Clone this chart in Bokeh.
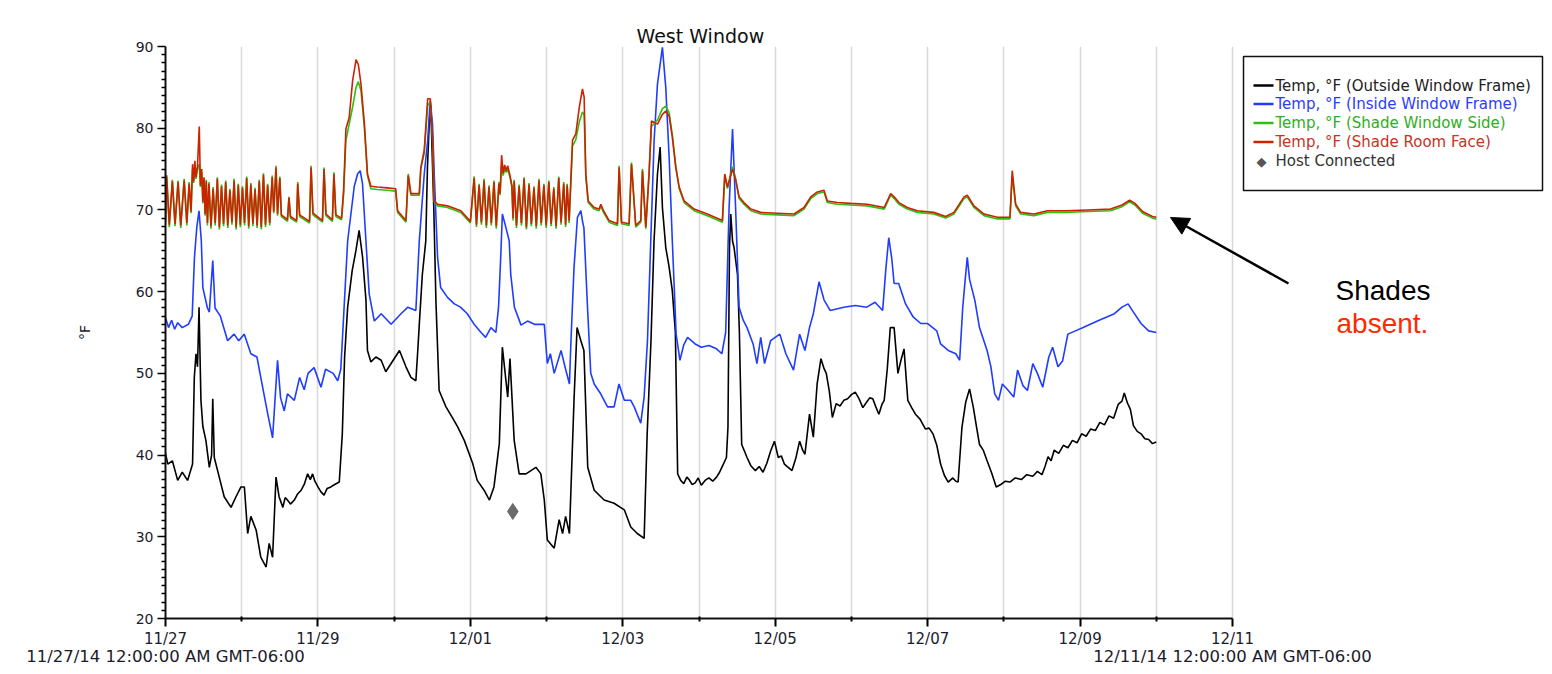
from bokeh.plotting import figure
from bokeh.models import FixedTicker, Label, Arrow, NormalHead, BoxAnnotation, Range1d, LinearAxis
from bokeh.embed import file_html
from bokeh.resources import INLINE

# ---------------- data (days since 11/27/14 00:00, °F) ----------------
TICK_DAYS = [0, 2, 4, 6, 8, 10, 12, 14]
TICK_LABELS = ["11/27", "11/29", "12/01", "12/03", "12/05", "12/07", "12/09", "12/11"]
GRID_DAYS = list(range(15))
Y_TICKS = [20, 30, 40, 50, 60, 70, 80, 90]
RANGE_LABELS = {0: "11/27/14 12:00:00 AM GMT-06:00", 14: "12/11/14 12:00:00 AM GMT-06:00"}

SERIES_NAMES = ["Temp, °F (Outside Window Frame)", "Temp, °F (Inside Window Frame)",
                "Temp, °F (Shade Window Side)", "Temp, °F (Shade Room Face)", "Host Connected"]

# Outside window frame (black)
outside_t1 = [0.0, 0.03, 0.09, 0.16, 0.22, 0.29, 0.355, 0.378, 0.40, 0.42,
              0.44, 0.465, 0.49, 0.53, 0.575, 0.605, 0.62, 0.64, 0.705, 0.77,
              0.86, 0.925, 0.99, 1.035, 1.078, 1.12, 1.19, 1.25, 1.32, 1.36,
              1.405, 1.45, 1.49, 1.54, 1.57, 1.60, 1.64, 1.69, 1.73, 1.78,
              1.82, 1.865, 1.90, 1.93, 1.96, 2.0, 2.04, 2.08, 2.12, 2.17,
              2.22, 2.28, 2.32, 2.35, 2.39, 2.45, 2.50, 2.54, 2.585, 2.63]
outside_v1 = [40.2, 38.9, 39.3, 36.9, 37.9, 36.9, 38.9, 49.5, 52.4, 50.8,
              58.1, 46.7, 43.5, 41.8, 38.5, 40.0, 46.9, 39.7, 37.3, 34.9,
              33.6, 34.9, 36.1, 36.1, 30.4, 32.5, 30.8, 27.5, 26.3, 29.2,
              27.5, 37.3, 34.9, 33.6, 34.8, 34.5, 34.0, 34.5, 35.2, 35.7,
              36.4, 37.7, 37.0, 37.7, 36.8, 36.1, 35.5, 35.1, 35.9, 36.1,
              36.4, 36.7, 42.6, 52.0, 58.1, 62.6, 65.1, 67.5, 64.3, 59.0]
outside_t2 = [2.65, 2.695, 2.76, 2.83, 2.89, 2.96, 3.07, 3.155, 3.22, 3.285,
              3.31, 3.33, 3.37, 3.415, 3.437, 3.46, 3.48, 3.52, 3.548, 3.59,
              3.68, 3.77, 3.83, 3.92, 4.03, 4.09, 4.18, 4.25, 4.31, 4.38,
              4.42, 4.49, 4.52, 4.575, 4.64, 4.73, 4.86, 4.925, 4.97, 5.01,
              5.10, 5.165, 5.21, 5.25, 5.30, 5.36, 5.40, 5.45, 5.49, 5.54,
              5.625, 5.755, 5.886, 6.02, 6.105, 6.19, 6.28, 6.32, 6.37, 6.41,
              6.455, 6.49, 6.52, 6.564, 6.608, 6.65, 6.69]
outside_v2 = [52.8, 51.4, 52.0, 51.6, 50.2, 51.2, 52.8, 50.8, 49.5, 49.1,
              52.8, 56.0, 62.1, 66.2, 75.2, 80.5, 82.8, 70.3, 58.9, 47.9,
              45.9, 44.5, 43.5, 41.8, 39.0, 36.9, 35.7, 34.5, 36.1, 41.4,
              53.2, 47.1, 51.8, 41.8, 37.7, 37.7, 38.5, 37.7, 34.5, 29.6,
              28.6, 32.1, 30.4, 32.5, 30.4, 46.7, 55.6, 54.0, 52.8, 38.5,
              35.7, 34.5, 34.1, 33.3, 31.2, 30.4, 29.8, 42.6, 54.0, 66.2,
              74.4, 77.7, 70.3, 65.4, 63.0, 60.1, 55.0]
outside_t3 = [6.72, 6.76, 6.80, 6.84, 6.87, 6.91, 6.95, 6.99, 7.03, 7.08,
              7.13, 7.18, 7.23, 7.27, 7.30, 7.36, 7.38, 7.40, 7.417, 7.44,
              7.46, 7.505, 7.53, 7.56, 7.60, 7.63, 7.68, 7.74, 7.79, 7.84,
              7.89, 7.94, 7.99, 8.04, 8.08, 8.12, 8.17, 8.22, 8.27, 8.32,
              8.36, 8.39, 8.45, 8.50, 8.55, 8.60, 8.64, 8.67, 8.71, 8.75,
              8.80, 8.85, 8.90, 8.95, 9.0, 9.05, 9.10, 9.15, 9.20, 9.24,
              9.28, 9.32, 9.36, 9.40, 9.43, 9.47, 9.51, 9.56, 9.61, 9.65,
              9.69, 9.74, 9.79, 9.84, 9.90, 9.97, 10.02, 10.07, 10.12, 10.17,
              10.22, 10.27, 10.33, 10.37, 10.40, 10.45, 10.50, 10.55, 10.60, 10.64,
              10.68, 10.73, 10.78, 10.84, 10.90]
outside_v3 = [37.7, 36.9, 36.5, 37.3, 37.0, 36.4, 36.6, 37.2, 36.3, 36.9,
              37.2, 36.8, 37.3, 37.9, 38.5, 39.7, 43.4, 65.4, 69.5, 66.2,
              65.4, 62.1, 55.0, 41.3, 40.4, 39.7, 38.7, 38.1, 38.6, 37.9,
              39.0, 40.5, 41.7, 39.7, 39.9, 38.9, 38.5, 38.1, 39.6, 41.7,
              40.6, 40.1, 45.0, 42.2, 48.7, 51.8, 50.6, 50.0, 47.8, 44.6,
              46.3, 46.0, 46.7, 46.9, 47.4, 47.7, 46.9, 45.8, 46.5, 47.0,
              46.9, 45.9, 45.0, 46.2, 46.7, 50.5, 55.6, 55.6, 50.0, 51.6,
              53.0, 46.7, 45.8, 45.0, 44.4, 43.2, 43.3, 42.6, 41.2, 38.9,
              37.5, 36.7, 37.2, 36.8, 36.7, 43.4, 46.5, 48.1, 45.8, 43.5,
              41.3, 40.6, 39.3, 37.8, 36.1]
outside_t4 = [10.96, 11.02, 11.08, 11.15, 11.23, 11.30, 11.38, 11.44, 11.50, 11.54,
              11.58, 11.62, 11.66, 11.72, 11.78, 11.84, 11.90, 11.96, 12.02, 12.08,
              12.14, 12.20, 12.26, 12.32, 12.38, 12.44, 12.50, 12.55, 12.58, 12.62,
              12.66, 12.70, 12.75, 12.80, 12.85, 12.90, 12.95, 13.0]
outside_v4 = [36.4, 36.8, 36.7, 37.2, 37.0, 37.6, 37.4, 38.0, 37.6, 38.6,
              39.8, 39.3, 40.6, 40.2, 41.2, 40.9, 41.8, 41.5, 42.6, 42.3,
              43.2, 43.0, 44.0, 43.7, 44.8, 44.5, 46.2, 46.6, 47.6, 46.4,
              45.6, 43.6, 42.9, 42.6, 42.0, 41.9, 41.4, 41.6]

# Inside window frame (blue)
inside_t1 = [0.0, 0.04, 0.08, 0.12, 0.16, 0.22, 0.30, 0.35, 0.38, 0.41,
             0.44, 0.47, 0.49, 0.55, 0.575, 0.62, 0.65, 0.72, 0.815, 0.90,
             0.96, 1.034, 1.12, 1.20, 1.25, 1.34, 1.405, 1.47, 1.51, 1.558,
             1.60, 1.69, 1.76, 1.82, 1.87, 1.95, 2.04, 2.10, 2.20, 2.26, 2.30]
inside_v1 = [56.8, 55.6, 56.5, 55.4, 56.2, 55.6, 56.0, 57.0, 64.2, 67.8,
             69.9, 66.2, 60.5, 58.0, 57.5, 63.8, 58.0, 57.0, 54.0, 54.8,
             54.0, 54.8, 52.4, 52.0, 49.5, 45.1, 42.1, 51.6, 47.0, 45.4,
             47.5, 46.7, 49.5, 48.0, 50.0, 50.7, 48.3, 50.5, 50.0, 49.1, 50.5]
inside_t2 = [2.32, 2.39, 2.477, 2.52, 2.555, 2.585, 2.63, 2.673, 2.74, 2.83,
             2.96, 3.09, 3.18, 3.285, 3.33, 3.395, 3.44, 3.473, 3.504, 3.526,
             3.57, 3.61, 3.70, 3.79, 3.87, 3.96, 4.05, 4.14, 4.20, 4.27,
             4.335, 4.37, 4.40, 4.42, 4.465, 4.51, 4.53, 4.578, 4.665, 4.75,
             4.84, 4.97, 5.01, 5.05, 5.10, 5.19, 5.25, 5.30, 5.32, 5.36,
             5.405, 5.45, 5.47, 5.49, 5.537, 5.58, 5.625, 5.71, 5.80, 5.886,
             5.95, 6.02, 6.105, 6.15, 6.236, 6.28, 6.324, 6.367, 6.411, 6.455,
             6.52, 6.564, 6.608, 6.65]
inside_v2 = [54.0, 66.2, 72.9, 74.4, 74.8, 73.2, 66.2, 59.7, 56.4, 57.3,
             56.0, 57.3, 58.1, 57.7, 66.2, 74.4, 78.5, 83.4, 80.5, 74.4,
             64.2, 60.5, 59.3, 58.5, 58.1, 57.3, 56.0, 55.0, 54.4, 55.6,
             55.0, 58.1, 64.6, 69.5, 67.9, 66.2, 62.1, 58.1, 55.9, 56.4,
             56.0, 56.0, 51.2, 52.4, 50.0, 52.8, 50.5, 48.7, 54.0, 62.9,
             69.1, 69.9, 68.7, 67.8, 58.1, 50.0, 48.7, 47.5, 45.9, 45.9,
             48.7, 46.7, 46.7, 45.9, 43.9, 47.1, 54.0, 66.2, 78.5, 85.4,
             89.9, 85.0, 76.5, 66.2]
inside_t3 = [6.70, 6.75, 6.80, 6.85, 6.95, 7.03, 7.13, 7.23, 7.30, 7.35,
             7.395, 7.44, 7.48, 7.526, 7.58, 7.63, 7.71, 7.76, 7.81, 7.86,
             7.94, 8.06, 8.14, 8.24, 8.32, 8.39, 8.45, 8.50, 8.575, 8.64,
             8.72, 8.90, 9.05, 9.20, 9.31, 9.41, 9.45, 9.49, 9.53, 9.56,
             9.62, 9.71, 9.81, 9.91, 10.0, 10.12, 10.17, 10.27, 10.37, 10.42,
             10.46, 10.49, 10.52, 10.55, 10.62, 10.68, 10.78, 10.83, 10.88, 10.93,
             10.98, 11.05, 11.13, 11.18, 11.25, 11.31, 11.38, 11.44, 11.51, 11.59,
             11.64, 11.71, 11.77, 11.84, 11.94, 12.04, 12.25, 12.45, 12.55, 12.63,
             12.70, 12.80, 12.90, 13.0]
inside_v3 = [54.8, 51.6, 53.5, 54.4, 53.6, 53.2, 53.4, 53.0, 52.4, 55.0,
             70.3, 79.9, 70.3, 58.1, 56.5, 55.6, 53.6, 51.2, 54.4, 51.2,
             54.0, 54.8, 52.4, 50.4, 54.8, 52.8, 55.6, 57.3, 61.2, 59.0,
             57.7, 58.1, 58.3, 58.1, 58.7, 57.7, 62.6, 66.6, 64.0, 61.0,
             61.0, 58.5, 56.9, 56.1, 56.1, 55.2, 53.6, 52.8, 52.4, 51.6,
             58.0, 61.2, 64.2, 61.5, 58.9, 55.6, 52.8, 50.8, 47.5, 46.7,
             48.7, 48.0, 47.1, 50.4, 48.5, 47.9, 51.2, 50.0, 48.3, 52.0,
             53.2, 50.8, 51.5, 54.8, 55.2, 55.6, 56.5, 57.3, 58.1, 58.5,
             57.5, 56.1, 55.2, 55.0]

# Shade sensors: shared time stamps, room face (red) and window side (green)
shade_t_a = [0.0, 0.015, 0.05, 0.09, 0.125, 0.165, 0.20, 0.245, 0.28, 0.31, 0.335]
room_a = [68.6, 74.1, 68.2, 73.5, 68.3, 73.4, 68.1, 73.6, 68.4, 73.2, 69.8]
side_a = [68.4, 74.3, 67.9, 73.7, 68.0, 73.6, 67.8, 73.8, 68.1, 73.4, 69.6]

shade_t_b = [0.355, 0.37, 0.385, 0.40, 0.42, 0.443, 0.458, 0.475, 0.49, 0.505, 0.52, 0.535, 0.55]
room_b = [75.6, 73.5, 76.0, 74.0, 75.4, 80.2, 73.0, 75.0, 71.0, 74.0, 69.5, 73.5, 68.4]
side_b = [75.0, 73.3, 75.4, 73.8, 75.0, 75.6, 72.8, 74.6, 70.8, 73.8, 69.3, 73.7, 68.1]

shade_t_c = [0.57, 0.597, 0.625, 0.652, 0.68, 0.707, 0.735, 0.762, 0.79, 0.817,
             0.845, 0.872, 0.90, 0.927, 0.955, 0.982, 1.01, 1.037, 1.065, 1.092,
             1.12, 1.147, 1.175, 1.202, 1.23, 1.257, 1.285, 1.312, 1.34, 1.367]
room_c = [73.2, 68.0, 72.6, 68.4, 73.8, 67.9, 72.9, 68.3, 73.4, 68.1,
          72.4, 68.5, 73.6, 67.9, 73.0, 68.2, 72.7, 68.4, 73.9, 68.0,
          73.1, 68.3, 72.5, 68.1, 73.5, 67.9, 74.3, 68.2, 73.0, 68.4]
side_c = [73.4, 67.7, 72.8, 68.1, 74.0, 67.6, 73.1, 68.0, 73.6, 67.8,
          72.6, 68.2, 73.8, 67.6, 73.2, 67.9, 72.9, 68.1, 74.1, 67.7,
          73.3, 68.0, 72.7, 67.8, 73.7, 67.6, 74.5, 67.9, 73.2, 68.1]

shade_t_d = [1.40, 1.42, 1.45, 1.47, 1.50, 1.52, 1.60, 1.62, 1.64, 1.72, 1.735,
             1.76, 1.89, 1.91, 1.935, 2.06, 2.08, 2.105, 2.19, 2.21, 2.235, 2.31]
room_d = [74.0, 69.8, 75.2, 69.5, 73.9, 69.4, 68.8, 71.5, 69.2, 68.7, 73.2,
          69.4, 68.6, 75.2, 69.6, 68.7, 75.0, 69.5, 68.8, 74.4, 69.4, 69.0]
side_d = [74.2, 69.6, 75.4, 69.3, 74.1, 69.2, 68.6, 71.6, 69.0, 68.5, 73.4,
          69.2, 68.4, 75.4, 69.4, 68.5, 75.2, 69.3, 68.6, 74.6, 69.2, 68.8]

shade_t_e = [2.337, 2.367, 2.41, 2.455, 2.50, 2.53, 2.565, 2.61, 2.65, 2.695,
             2.78, 2.91, 3.02, 3.045, 3.155, 3.185, 3.22, 3.33, 3.35, 3.395,
             3.44, 3.475, 3.505, 3.525, 3.57, 3.70, 3.875, 4.0]
room_e = [72.4, 79.9, 81.3, 85.8, 88.4, 87.8, 85.4, 80.5, 74.4, 72.9,
          72.8, 72.7, 72.6, 69.9, 68.7, 74.2, 72.0, 72.0, 75.2, 77.3,
          83.6, 83.6, 78.5, 71.1, 70.7, 70.5, 69.9, 68.6]
side_e = [72.0, 78.5, 80.5, 82.6, 85.0, 85.7, 84.6, 80.0, 74.2, 72.6,
          72.5, 72.4, 72.3, 69.7, 68.5, 74.4, 71.8, 71.8, 75.0, 77.0,
          82.8, 83.2, 78.2, 71.0, 70.5, 70.3, 69.7, 68.4]

shade_t_f = [4.05, 4.08, 4.115, 4.145, 4.18, 4.21, 4.245, 4.275, 4.31, 4.34,
             4.375, 4.39, 4.41, 4.43, 4.45, 4.47, 4.49, 4.52, 4.545, 4.56,
             4.575, 4.605, 4.64, 4.67, 4.705, 4.735, 4.77, 4.80, 4.835, 4.865,
             4.90, 4.93, 4.965, 4.995, 5.03, 5.06, 5.095, 5.125, 5.16, 5.19,
             5.225, 5.25, 5.27, 5.296]
room_f = [73.9, 68.2, 73.0, 68.5, 73.6, 68.1, 72.8, 68.4, 73.4, 68.0,
          73.2, 72.0, 76.7, 74.5, 75.5, 74.8, 75.4, 74.2, 73.0, 69.0,
          73.5, 68.1, 72.9, 68.4, 73.8, 67.9, 73.1, 68.3, 72.7, 68.0,
          73.6, 68.4, 73.0, 68.1, 73.4, 68.3, 72.6, 68.0, 73.9, 68.5,
          73.2, 68.2, 73.0, 68.7]
side_f = [74.1, 67.9, 73.2, 68.2, 73.8, 67.8, 73.0, 68.1, 73.6, 67.7,
          73.4, 71.8, 75.6, 74.2, 75.0, 74.6, 75.0, 74.0, 72.8, 68.7,
          73.7, 67.8, 73.1, 68.1, 74.0, 67.6, 73.3, 68.0, 72.9, 67.7,
          73.8, 68.1, 73.2, 67.8, 73.6, 68.0, 72.8, 67.7, 74.1, 68.2,
          73.4, 67.9, 73.2, 68.4]

shade_t_g = [5.34, 5.384, 5.43, 5.471, 5.493, 5.515, 5.546, 5.624, 5.69, 5.712,
             5.747, 5.821, 5.93, 5.952, 5.983, 6.083, 6.114, 6.17, 6.236, 6.258,
             6.302, 6.345, 6.376, 6.455, 6.52, 6.564, 6.608, 6.65, 6.695, 6.74,
             6.805, 6.936, 7.11, 7.307, 7.338, 7.373, 7.44, 7.482, 7.526, 7.59,
             7.68, 7.81, 8.03, 8.247, 8.378, 8.466, 8.553, 8.64, 8.684, 8.815,
             8.99, 9.21, 9.43, 9.515, 9.56, 9.624, 9.733, 9.865, 10.08, 10.236,
             10.345, 10.477, 10.52, 10.608, 10.74, 10.914, 11.08, 11.11, 11.155, 11.22,
             11.395, 11.57, 11.8, 12.1, 12.4, 12.55, 12.65, 12.72, 12.82, 12.95, 13.0]
room_g = [78.5, 79.3, 82.6, 84.8, 83.8, 74.4, 71.1, 70.3, 70.1, 70.7,
          69.9, 68.7, 68.3, 75.2, 68.5, 68.3, 75.6, 68.1, 68.7, 74.8,
          67.9, 74.4, 80.9, 80.5, 81.7, 82.1, 81.5, 78.9, 75.2, 72.8,
          71.1, 70.1, 69.5, 68.7, 74.4, 72.8, 75.0, 73.6, 71.6, 70.9,
          70.1, 69.7, 69.6, 69.5, 70.3, 71.6, 72.2, 72.4, 71.1, 70.9,
          70.8, 70.7, 70.3, 72.0, 71.6, 70.9, 70.3, 69.9, 69.7, 69.2,
          69.7, 71.6, 71.8, 70.5, 69.5, 69.1, 69.1, 74.8, 70.7, 69.7,
          69.5, 69.9, 69.9, 70.0, 70.1, 70.6, 71.2, 70.8, 69.8, 69.2, 69.1]
side_g = [77.8, 78.6, 80.8, 82.0, 81.6, 74.0, 70.9, 70.1, 69.9, 70.5,
          69.7, 68.5, 68.1, 75.4, 68.3, 68.1, 75.8, 67.9, 68.5, 75.0,
          67.7, 74.6, 80.2, 81.0, 82.4, 82.7, 81.9, 79.2, 75.4, 72.6,
          70.9, 69.9, 69.3, 68.5, 74.2, 72.6, 75.3, 73.8, 71.4, 70.7,
          69.9, 69.5, 69.4, 69.3, 70.1, 71.4, 72.0, 72.2, 70.9, 70.7,
          70.6, 70.5, 70.1, 71.8, 71.4, 70.7, 70.1, 69.7, 69.5, 69.0,
          69.5, 71.4, 71.6, 70.3, 69.3, 68.9, 68.9, 74.2, 70.5, 69.5,
          69.3, 69.7, 69.7, 69.8, 69.9, 70.4, 71.0, 70.6, 69.6, 69.0, 68.9]

host_t = [4.557]
host_v = [33.1]

# ---------------- assemble series ----------------
outside_t = outside_t1 + outside_t2 + outside_t3 + outside_t4
outside_v = outside_v1 + outside_v2 + outside_v3 + outside_v4
inside_t = inside_t1 + inside_t2 + inside_t3
inside_v = inside_v1 + inside_v2 + inside_v3
shade_t = shade_t_a + shade_t_b + shade_t_c + shade_t_d + shade_t_e + shade_t_f + shade_t_g
room_v = room_a + room_b + room_c + room_d + room_e + room_f + room_g
side_v = side_a + side_b + side_c + side_d + side_e + side_f + side_g

# ---------------- layout / styling ----------------
FONT = "DejaVu Sans"
C_BLACK = "#000000"
C_BLUE = "#1f3cff"
C_GREEN = "#2fbf12"
C_RED = "#cc2200"

W, H = 1552, 674
LEFT, TOP, BOTTOM = 165, 46, 618          # frame edges (page px)
AXIS_RIGHT = 1232                          # page px of 12/11
X0, X1, Y0, Y1 = 0, 14, 20, 90
PX_DAY = (AXIS_RIGHT - LEFT) / (X1 - X0)
PX_DEG = (BOTTOM - TOP) / (Y1 - Y0)
X_END = X0 + (W - LEFT) / PX_DAY           # frame runs to the right edge (legend/notes live there)

p = figure(width=W, height=H, output_backend="svg", toolbar_location=None,
           x_range=Range1d(X0, X_END), y_range=Range1d(Y0, Y1),
           min_border_left=LEFT, min_border_right=0,
           min_border_top=TOP, min_border_bottom=H - BOTTOM)
p.outline_line_color = None
p.background_fill_color = "white"
p.border_fill_color = "white"


def ax(px):   # page pixel -> x data (annotation placement only)
    return X0 + (px - LEFT) / PX_DAY


def ay(py):   # page pixel -> y data (annotation placement only)
    return Y1 - (py - TOP) / PX_DEG


# title
p.title.text = "West Window"
p.title.align = "left"
p.title.offset = 636 - LEFT
p.title.text_font = FONT
p.title.text_font_size = "19px"
p.title.text_font_style = "normal"
p.title.text_color = "#111111"
p.title.standoff = 0

# grid
p.ygrid.grid_line_color = None
p.xgrid.ticker = FixedTicker(ticks=GRID_DAYS)
p.xgrid.grid_line_color = "#d9d9d9"
p.xgrid.grid_line_width = 1.5

# x axis
xa = p.xaxis[0]
xa.bounds = (X0, X1)
xa.ticker = FixedTicker(ticks=TICK_DAYS, minor_ticks=[d for d in GRID_DAYS if d not in TICK_DAYS])
xa.major_label_overrides = {d: s for d, s in zip(TICK_DAYS, TICK_LABELS)}
xa.major_label_text_font = FONT
xa.major_label_text_font_size = "15px"
xa.major_label_text_color = "#1b1b2a"
xa.major_label_standoff = 3
xa.axis_line_width = 2
xa.axis_line_color = "#111111"
xa.major_tick_line_width = 2
xa.major_tick_out = 8
xa.major_tick_in = 0
xa.minor_tick_out = 3
xa.minor_tick_in = 2
xa.minor_tick_line_width = 2

# range-label axis (start / end timestamps)
xr = LinearAxis(ticker=FixedTicker(ticks=list(RANGE_LABELS.keys()), minor_ticks=[]),
                major_label_overrides=RANGE_LABELS, bounds=(X0, X1))
xr.axis_line_color = None
xr.major_tick_line_color = None
xr.minor_tick_line_color = None
xr.major_tick_out = 0
xr.major_tick_in = 0
xr.major_label_standoff = -4
xr.major_label_text_font = FONT
xr.major_label_text_font_size = "16.5px"
xr.major_label_text_color = "#1b1b2a"
p.add_layout(xr, "below")

# y axis
ya = p.yaxis[0]
ya.bounds = (Y0, Y1)
ya.ticker = FixedTicker(ticks=Y_TICKS, minor_ticks=[v for v in range(21, 90) if v % 10])
ya.major_label_text_font = FONT
ya.major_label_text_font_size = "14px"
ya.major_label_text_color = "#1b1b2a"
ya.major_label_standoff = 4
ya.axis_line_width = 2
ya.axis_line_color = "#111111"
ya.major_tick_line_width = 1.5
ya.major_tick_out = 8
ya.major_tick_in = 0
ya.minor_tick_out = 4
ya.minor_tick_in = 0
ya.minor_tick_line_width = 1.5
ya.axis_label = "°F"
ya.axis_label_text_font = FONT
ya.axis_label_text_font_size = "14px"
ya.axis_label_text_font_style = "normal"
ya.axis_label_text_color = "#1b1b2a"
ya.axis_label_standoff = 40

# series
p.line(outside_t, outside_v, line_color=C_BLACK, line_width=1.6)
p.line(inside_t, inside_v, line_color=C_BLUE, line_width=1.6)
p.line(shade_t, side_v, line_color=C_GREEN, line_width=1.6)
p.line(shade_t, room_v, line_color=C_RED, line_width=1.6)
p.scatter(host_t, host_v, marker="diamond", size=16, fill_color="#6b6b6b", line_color="#6b6b6b")

# legend box (custom, coloured labels like the original)
p.add_layout(BoxAnnotation(left=ax(1243), right=ax(1542), top=ay(56), bottom=ay(190),
                           fill_color="white", fill_alpha=1.0, line_color="#111111",
                           line_width=1.5, line_alpha=1.0))
leg_rows = [85, 103.5, 122.5, 141.5, 160.5]
leg_colors = [C_BLACK, C_BLUE, C_GREEN, C_RED, None]
leg_text_colors = ["#222222", "#2a3cff", "#2fae22", "#c8321e", "#333333"]
for name, row, lc, tc in zip(SERIES_NAMES, leg_rows, leg_colors, leg_text_colors):
    if lc is not None:
        p.add_layout(Arrow(x_start=ax(1253), y_start=ay(row), x_end=ax(1273), y_end=ay(row),
                           end=None, line_color=lc, line_width=2.5))
    else:
        p.add_layout(Label(x=ax(1261), y=ay(row), text="◆", text_align="center",
                           text_baseline="middle", text_font=FONT, text_font_size="13px",
                           text_color="#555555"))
    p.add_layout(Label(x=ax(1275), y=ay(row), text=name, text_align="left",
                       text_baseline="middle", text_font=FONT, text_font_size="15px",
                       text_color=tc))

# annotation: arrow + note
p.add_layout(Arrow(x_start=ax(1288), y_start=ay(283), x_end=ax(1170), y_end=ay(217),
                   line_color="black", line_width=2.5,
                   end=NormalHead(size=18, fill_color="black", line_color="black")))
p.add_layout(Label(x=ax(1335), y=ay(290), text="Shades", text_align="left",
                   text_baseline="alphabetic", text_font="Liberation Sans",
                   text_font_size="28px", text_color="black"))
p.add_layout(Label(x=ax(1336), y=ay(323), text="absent.", text_align="left",
                   text_baseline="alphabetic", text_font="Liberation Sans",
                   text_font_size="28px", text_color="#ff2a00"))

open("out.html", "w").write(file_html(p, INLINE))
